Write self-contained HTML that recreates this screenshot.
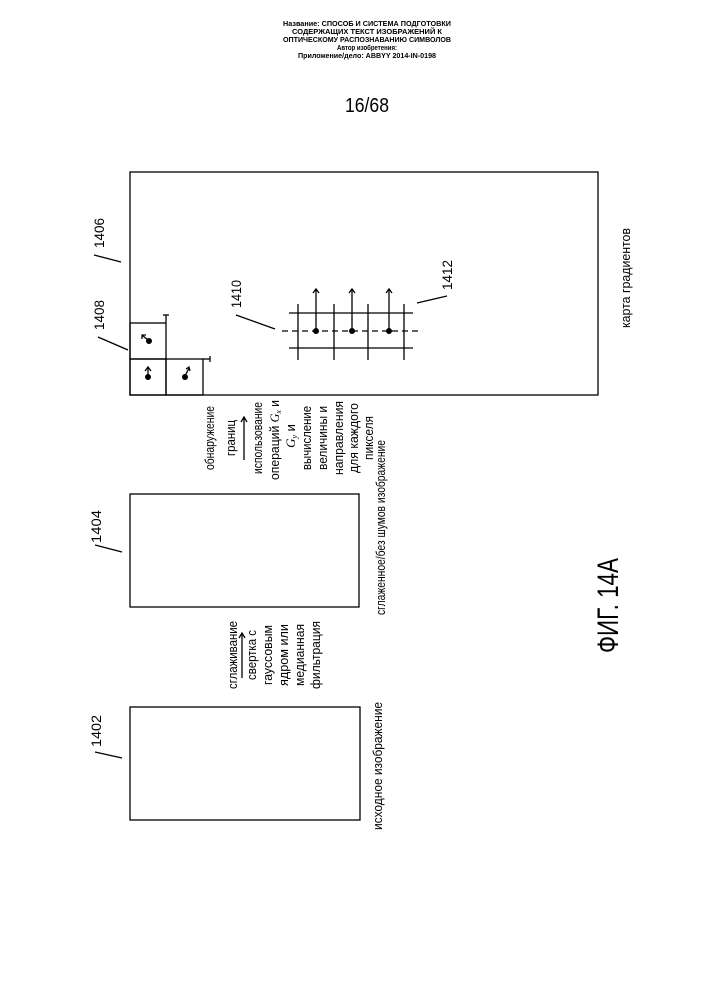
<!DOCTYPE html>
<html><head><meta charset="utf-8"><style>
html,body{margin:0;padding:0;background:#fff;}
svg{display:block;}
text{font-family:"Liberation Sans",sans-serif;fill:#000;}
</style></head><body>
<svg width="707" height="1000" viewBox="0 0 707 1000" xmlns="http://www.w3.org/2000/svg">
<!-- header -->
<g font-weight="bold" font-size="7.5" text-anchor="middle">
<text x="367" y="26" textLength="168" lengthAdjust="spacingAndGlyphs">Название:  СПОСОБ И СИСТЕМА ПОДГОТОВКИ</text>
<text x="367" y="34" textLength="150" lengthAdjust="spacingAndGlyphs">СОДЕРЖАЩИХ ТЕКСТ ИЗОБРАЖЕНИЙ К</text>
<text x="367" y="42" textLength="168" lengthAdjust="spacingAndGlyphs">ОПТИЧЕСКОМУ РАСПОЗНАВАНИЮ СИМВОЛОВ</text>
<text x="367" y="50" textLength="60" lengthAdjust="spacingAndGlyphs">Автор изобретения:</text>
<text x="367" y="58" textLength="138" lengthAdjust="spacingAndGlyphs">Приложение/дело:  ABBYY 2014-IN-0198</text>
</g>
<text x="367" y="112" font-size="20" text-anchor="middle" textLength="44" lengthAdjust="spacingAndGlyphs">16/68</text>

<g fill="none" stroke="#000" stroke-width="1.3">
<rect x="130" y="172" width="468" height="223"/>
<rect x="130" y="494" width="229" height="113"/>
<rect x="130" y="707" width="230" height="113"/>
<rect x="130" y="323" width="36" height="36"/>
<rect x="130" y="359" width="36" height="36"/>
<rect x="166" y="359" width="37" height="36"/>
<line x1="166" y1="315" x2="166" y2="323"/>
<line x1="163" y1="315" x2="169" y2="315"/>
<line x1="203" y1="359" x2="210" y2="359"/>
<line x1="210" y1="356" x2="210" y2="362"/>
<line x1="289" y1="313" x2="413" y2="313"/>
<line x1="289" y1="348" x2="413" y2="348"/>
<line x1="298" y1="304" x2="298" y2="360"/>
<line x1="334" y1="304" x2="334" y2="360"/>
<line x1="368" y1="304" x2="368" y2="360"/>
<line x1="404" y1="304" x2="404" y2="360"/>
<line x1="282" y1="331" x2="422" y2="331" stroke-dasharray="6,4"/>
<line x1="316" y1="331" x2="316" y2="290"/>
<line x1="352" y1="331" x2="352" y2="290"/>
<line x1="389" y1="331" x2="389" y2="290"/>
<polyline points="313,293 316,289 319,293"/>
<polyline points="349,293 352,289 355,293"/>
<polyline points="386,293 389,289 392,293"/>
<line x1="149" y1="341" x2="142" y2="335"/>
<polyline points="142,339 142,335 146,335"/>
<line x1="148" y1="376" x2="148" y2="368"/>
<polyline points="145,371 148,367 151,371"/>
<line x1="185" y1="376" x2="189" y2="368"/>
<polyline points="186,369 189,367 190,371"/>
<line x1="236" y1="315" x2="275" y2="329"/>
<line x1="417" y1="303" x2="447" y2="296"/>
<line x1="94" y1="255" x2="121" y2="262"/>
<line x1="98" y1="337" x2="128" y2="350"/>
<line x1="95" y1="545" x2="122" y2="552"/>
<line x1="95" y1="752" x2="122" y2="758"/>
<line x1="244" y1="460" x2="244" y2="418"/>
<polyline points="241,422 244,417 247,422"/>
<line x1="242" y1="678" x2="242" y2="634"/>
<polyline points="239,638 242,633 245,638"/>
</g>
<g fill="#000">
<circle cx="316" cy="331" r="3"/><circle cx="352" cy="331" r="3"/><circle cx="389" cy="331" r="3"/>
<circle cx="149" cy="341" r="3"/><circle cx="148" cy="377" r="3"/><circle cx="185" cy="377" r="3"/>
</g>

<g font-size="14">
<text transform="translate(241,308) rotate(-90)" textLength="28" lengthAdjust="spacingAndGlyphs">1410</text>
<text transform="translate(452,290) rotate(-90)" textLength="30" lengthAdjust="spacingAndGlyphs">1412</text>
<text transform="translate(104,248) rotate(-90)" textLength="30" lengthAdjust="spacingAndGlyphs">1406</text>
<text transform="translate(104,330) rotate(-90)" textLength="30" lengthAdjust="spacingAndGlyphs">1408</text>
<text transform="translate(101,543) rotate(-90)" textLength="33" lengthAdjust="spacingAndGlyphs">1404</text>
<text transform="translate(101,747) rotate(-90)" textLength="32" lengthAdjust="spacingAndGlyphs">1402</text>
</g>
<g font-size="13">
<text transform="translate(630,328) rotate(-90)" textLength="100" lengthAdjust="spacingAndGlyphs">карта градиентов</text>
<text transform="translate(385,615) rotate(-90)" textLength="175" lengthAdjust="spacingAndGlyphs">сглаженное/без шумов изображение</text>
<text transform="translate(382,830) rotate(-90)" textLength="128" lengthAdjust="spacingAndGlyphs">исходное изображение</text>
</g>
<text transform="translate(618,653) rotate(-90)" font-size="30" textLength="95" lengthAdjust="spacingAndGlyphs">ФИГ. 14A</text>

<g font-size="13" text-anchor="middle">
<text transform="translate(214,438) rotate(-90)" textLength="64" lengthAdjust="spacingAndGlyphs">обнаружение</text>
<text transform="translate(235,438) rotate(-90)" textLength="36" lengthAdjust="spacingAndGlyphs">границ</text>
<text transform="translate(262,438) rotate(-90)" textLength="72" lengthAdjust="spacingAndGlyphs">использование</text>
<text transform="translate(279,440) rotate(-90)" textLength="80" lengthAdjust="spacingAndGlyphs">операций <tspan font-family="Liberation Serif" font-style="italic">G</tspan><tspan font-family="Liberation Serif" font-style="italic" font-size="8" dy="2">x</tspan><tspan dy="-2"> и</tspan></text>
<text transform="translate(295,436) rotate(-90)"><tspan font-family="Liberation Serif" font-style="italic">G</tspan><tspan font-family="Liberation Serif" font-style="italic" font-size="8" dy="2">y</tspan><tspan dy="-2"> и</tspan></text>
<text transform="translate(311,438) rotate(-90)" textLength="64" lengthAdjust="spacingAndGlyphs">вычисление</text>
<text transform="translate(327,438) rotate(-90)" textLength="64" lengthAdjust="spacingAndGlyphs">величины и</text>
<text transform="translate(343,438) rotate(-90)" textLength="74" lengthAdjust="spacingAndGlyphs">направления</text>
<text transform="translate(358,438) rotate(-90)" textLength="70" lengthAdjust="spacingAndGlyphs">для каждого</text>
<text transform="translate(373,438) rotate(-90)" textLength="44" lengthAdjust="spacingAndGlyphs">пикселя</text>
</g>
<g font-size="13" text-anchor="middle">
<text transform="translate(237,655) rotate(-90)" textLength="68" lengthAdjust="spacingAndGlyphs">сглаживание</text>
<text transform="translate(256,655) rotate(-90)" textLength="50" lengthAdjust="spacingAndGlyphs">свертка с</text>
<text transform="translate(272,655) rotate(-90)" textLength="60" lengthAdjust="spacingAndGlyphs">гауссовым</text>
<text transform="translate(288,655) rotate(-90)" textLength="62" lengthAdjust="spacingAndGlyphs">ядром или</text>
<text transform="translate(304,655) rotate(-90)" textLength="62" lengthAdjust="spacingAndGlyphs">медианная</text>
<text transform="translate(320,655) rotate(-90)" textLength="68" lengthAdjust="spacingAndGlyphs">фильтрация</text>
</g>
</svg>
</body></html>
